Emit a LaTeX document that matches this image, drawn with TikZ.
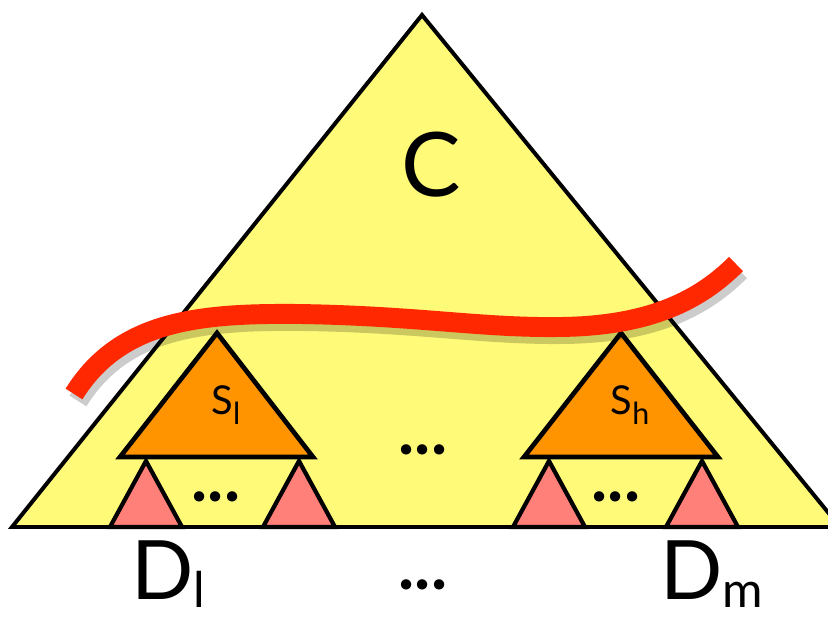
\documentclass[tikz,border=0pt]{standalone}
\usepackage{fontspec}
\setmainfont{Lato}
\definecolor{treeyellow}{RGB}{255,250,120}
\definecolor{subtreeorange}{RGB}{255,148,0}
\definecolor{leafpink}{RGB}{255,128,120}
\definecolor{cutred}{RGB}{255,40,0}
\tikzset{tree/.style={draw,fill=treeyellow,line width=3.4pt,line join=miter},
 subtree/.style={draw,fill=subtreeorange,line width=4pt},
 leaf/.style={draw,fill=leafpink,line width=3.6pt},
 cut/.style={cutred,line width=17pt},
 cutshadow/.style={black,opacity=.2,line width=17pt},
 dots/.style={font=\fontsize{58}{58}\selectfont\bfseries},
 root/.style={inner sep=0pt,font=\fontsize{70}{70}\selectfont}}

\begin{document}
\begin{tikzpicture}[x=0.03cm,y=-0.03cm]
\useasboundingbox (0,0) rectangle (828,617);
\coordinate (T) at (422,15);
\coordinate (L) at (12,527);
\coordinate (R) at (840,527);
\draw[tree] (L)--(T)--(R)--cycle;
\node (C) at (431,165) {\fontsize{76}{76}\selectfont C};
% subtrees
\draw[subtree] (217,333)--(313,457)--(120,457)--cycle;
\draw[subtree] (621,333)--(718,457)--(524,457)--cycle;
\node (Sl) at (226,405) {\fontsize{34}{34}\selectfont S\raisebox{-8pt}{\fontsize{26}{26}\selectfont l}};
\node (Sh) at (630,405) {\fontsize{34}{34}\selectfont S\raisebox{-8pt}{\fontsize{26}{26}\selectfont h}};
% leaves
\foreach \x in {146,299,549,702}
  \draw[leaf] (\x,461)--(\x+36,527)--(\x-36,527)--cycle;
\node[dots] (d1) at (216,497) {...};
\node[dots] (d2) at (616,497) {...};
\node[dots] (d3) at (423,450) {...};
% cut
\draw[cutshadow] (78,401) .. controls (124,327) and (204,320) .. (304,321) .. controls (424,323) and (484,335) .. (564,334) .. controls (654,333) and (704,307) .. (740,271);
\draw[cut] (74,394) .. controls (120,320) and (200,313) .. (300,314) .. controls (420,316) and (480,328) .. (560,327) .. controls (650,326) and (700,300) .. (736,264);
% roots
\node[root] (Dl) at (168,574) {D\raisebox{-7pt}{\fontsize{42}{42}\selectfont l}};
\node[root] (Dm) at (712,574) {D\raisebox{-7pt}{\fontsize{42}{42}\selectfont m}};
\node[dots] (d4) at (423,585) {...};
\end{tikzpicture}
\end{document}
